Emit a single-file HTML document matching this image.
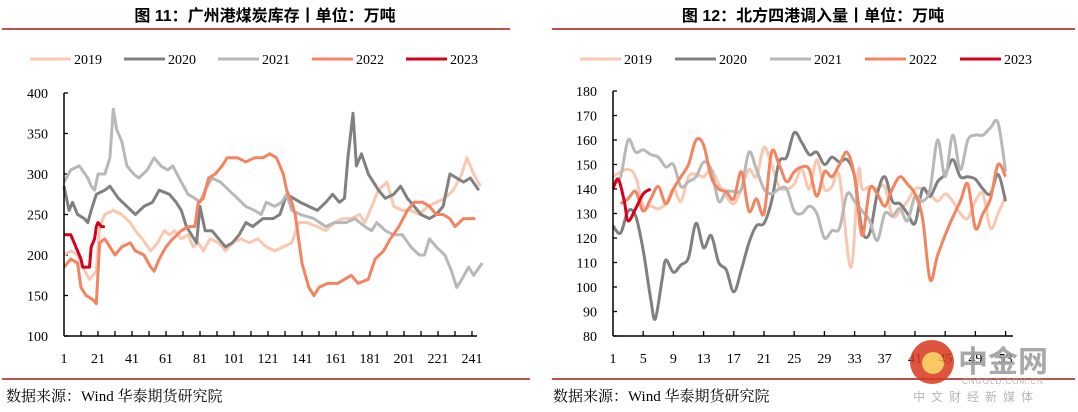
<!DOCTYPE html>
<html><head><meta charset="utf-8"><style>
body{margin:0;background:#fff;width:1078px;height:412px;overflow:hidden;font-family:"Liberation Serif","Noto Serif CJK SC",serif}
svg{position:absolute;left:0;top:0}
</style></head><body>
<svg width="1078" height="412" id="svg">
<text x="265" y="21" text-anchor="middle" font-family="'Liberation Sans','Noto Sans CJK SC',sans-serif" font-weight="bold" font-size="16">图 11：广州港煤炭库存丨单位：万吨</text>
<text x="813" y="21" text-anchor="middle" font-family="'Liberation Sans','Noto Sans CJK SC',sans-serif" font-weight="bold" font-size="16">图 12：北方四港调入量丨单位：万吨</text>
<line x1="2" y1="29" x2="510" y2="29" stroke="#c0504d" stroke-width="2"/>
<line x1="552" y1="29" x2="1075" y2="29" stroke="#c0504d" stroke-width="2"/>
<line x1="2" y1="379" x2="530" y2="379" stroke="#c0504d" stroke-width="2"/>
<line x1="552" y1="379" x2="1075" y2="379" stroke="#c0504d" stroke-width="2"/>
<text x="6" y="401" font-size="15">数据来源：Wind 华泰期货研究院</text>
<text x="553" y="401" font-size="15">数据来源：Wind 华泰期货研究院</text>
<g id="L"></g><g id="R"></g>
<g opacity="0.85">
<circle cx="932" cy="362" r="22" fill="#d9381e"/>
<circle cx="933" cy="363" r="11" fill="#f6c04a"/>
<text x="958" y="372" font-size="30" font-weight="bold" fill="#999" font-family="'Noto Sans CJK SC',sans-serif">中金网</text>
<text x="962" y="384" font-size="8" fill="#aaa" font-family="'Liberation Sans',sans-serif" letter-spacing="1">CNGOLD.COM.CN</text>
<text x="913" y="401" font-size="12" fill="#aaa" letter-spacing="6" font-family="'Noto Sans CJK SC',sans-serif">中文财经新媒体</text>
</g>
</svg>
<script>
const NS="http://www.w3.org/2000/svg";
const years=["2019","2020","2021","2022","2023"];
const colors=["#f8c8b0","#808080","#b8b8b8","#f4845f","#d7001b"];
// Left chart data (day index, value)
const L19x=[1,5,9,12,16,20,22,25,30,35,40,43,47,52,56,60,63,66,70,74,77,80,83,87,92,96,100,105,110,115,120,125,130,135,139,144,150,155,160,165,170,175,178,182,186,191,195,200,205,210,215,220,225,230,235,238,242,246];
const L19v=[200,205,200,185,170,180,235,250,255,250,240,230,220,205,215,230,225,230,220,225,210,215,205,220,215,205,215,220,215,220,210,205,210,215,240,240,235,230,240,245,245,250,240,260,280,290,260,255,255,250,260,265,270,280,300,320,300,285];
const L20x=[1,4,6,9,13,15,17,20,25,28,33,38,43,48,53,57,63,67,70,73,76,79,81,84,88,92,96,100,104,108,112,118,124,128,132,136,140,145,150,155,159,163,166,168,171,173,176,180,183,186,190,195,199,203,207,211,216,220,224,228,232,236,240,245];
const L20v=[285,255,265,250,245,240,255,275,280,285,270,260,250,260,265,280,275,265,255,235,225,215,260,230,230,220,210,215,225,240,235,245,245,250,275,270,265,260,255,265,275,265,270,320,375,310,325,300,290,280,270,275,285,270,260,250,245,250,260,300,295,290,295,280];
const L21x=[1,5,10,15,17,19,21,25,28,30,32,35,38,42,45,50,54,58,62,65,70,74,78,81,84,88,93,98,103,108,113,117,120,125,129,132,135,140,148,155,160,167,172,178,182,185,190,195,200,205,210,213,216,220,225,229,232,235,239,242,247];
const L21v=[290,305,310,295,285,280,300,300,320,380,355,340,310,300,295,305,320,310,305,310,290,275,270,265,280,295,290,280,270,260,255,250,265,260,265,275,255,250,245,235,240,240,245,235,230,240,230,225,225,210,200,200,220,210,200,180,160,170,185,175,190];
const L22x=[1,5,9,11,14,18,20,22,25,28,31,35,40,43,48,52,54,57,61,65,70,74,78,80,83,86,90,94,97,103,108,113,118,122,126,130,132,135,137,141,145,148,151,156,162,166,170,174,180,184,189,193,198,203,207,212,216,220,224,228,231,236,243];
const L22v=[185,195,190,160,150,145,140,215,220,210,200,210,215,205,200,185,180,195,210,220,230,235,235,265,270,295,300,310,320,320,315,320,320,325,320,300,280,265,250,190,160,150,160,165,165,170,175,165,170,195,205,220,235,255,265,265,260,250,250,245,235,245,245];
const L23x=[1,5,8,11,12,16,17,19,20,21,23,25];
const L23v=[225,225,210,195,185,185,210,220,235,240,235,235];
const Lx=[L19x,L20x,L21x,L22x,L23x], Lv=[L19v,L20v,L21v,L22v,L23v];
const Lticks=[1,21,41,61,81,101,121,141,161,181,201,221,241];
const LyTicks=[100,150,200,250,300,350,400];
// Right chart data (week, value)
const R19x=[1,2,3,4,5,6,7,8,9,10,11,12,13,14,15,16,17,18,19,20,21,22,23,24,25,26,27,28,29,30,31,32.5,33.5,34,35,36,37,38,39,40,41,42,43,44,45,46,47,48,49,50,51,52,53];
const R19v=[145,147,148,145,133,133,132,134,140,135,145,146,145,148,142,137,134,140,148,145,157,150,141,140,142,148,140,152,140,141,145,108,147,140,141,140,141,129,131,135,140,140,138,135,138,135,130,128,135,138,124,130,137];
const R20x=[1,2,3,4,5,6,6.6,7.5,8,9,10,11,12,13,14,15,16,17,18,19,20,21,22,23,24,25,26,27,28,29,30,31,32,33,34,35,36,37,38,39,40,41,42,43,44,45,46,47,48,49,50,51,52,53];
const R20v=[125,122,131,129,115,95,87,103,111,106,109,112,126,116,121,110,107,98,107,118,125,126,135,151,153,163,159,154,155,150,153,151,152,145,123,122,138,145,135,134,130,126,140,137,143,146,152,145,145,144,140,138,146,135];
const R21x=[1,2,3,4,5,6,7,8,9,10,11,12,13,14,15,16,17,18,19,20,21,22,23,24,25,26,27,28,29,30,31,32,33,34,35,36,37,38,39,40,41,42,43,44,45,46,47,48,49,50,51,52,53];
const R21v=[142,145,160,155,156,154,153,149,150,141,143,145,151,148,135,139,139,140,155,148,140,138,140,140,131,130,133,130,120,123,124,138,135,131,127,119,130,129,132,127,137,135,140,160,145,162,148,160,162,162,165,167,147];
const R22x=[2,3,4,5,6,7,8,9,10,11,12,13,14,15,16,17,18,19,20,21,22,23,24,25,26,27,28,29,30,31,32,33,34,35,36,37,38,39,40,41,42,43,44,45.5,47,48,49,50,51,52,53];
const R22v=[134,136,139,131,136,141,134,140,145,150,160,158,145,140,139,136,147,131,136,130,155,150,143,147,149,148,137,147,145,150,155,145,121,140,138,133,140,145,142,138,128,103,113,125,135,142,124,130,136,150,145];
const R23x=[1,1.7,2.5,3,4,5,6];
const R23v=[140,144,135,127,132,138,140];
const Rx=[R19x,R20x,R21x,R22x,R23x], Rv=[R19v,R20v,R21v,R22v,R23v];
const Rticks=[1,5,9,13,17,21,25,29,33,37,41,45,49,53];
const RyTicks=[80,90,100,110,120,130,140,150,160,170,180];

function el(tag,attrs,parent){const e=document.createElementNS(NS,tag);for(const k in attrs)e.setAttribute(k,attrs[k]);parent.appendChild(e);return e;}
function smooth(pts){let d="M"+pts[0][0]+","+pts[0][1];for(let i=0;i<pts.length-1;i++){const p0=pts[i-1]||pts[i],p1=pts[i],p2=pts[i+1],p3=pts[i+2]||p2;const c1x=p1[0]+(p2[0]-p0[0])/6,c1y=p1[1]+(p2[1]-p0[1])/6,c2x=p2[0]-(p3[0]-p1[0])/6,c2y=p2[1]-(p3[1]-p1[1])/6;d+=` C${c1x},${c1y} ${c2x},${c2y} ${p2[0]},${p2[1]}`;}return d;}

function panel(g,cfg){
  const xs=v=>cfg.x0+(v-cfg.xmin)*cfg.xs;
  const ys=v=>cfg.yb-(v-cfg.ymin)/(cfg.ymax-cfg.ymin)*(cfg.yb-cfg.yt);
  // legend
  years.forEach((y,i)=>{
    const lx=cfg.legX+i*cfg.legStep;
    const ln=el("line",{x1:lx,y1:59,x2:lx+41,y2:59,stroke:colors[i],"stroke-width":3},g);
    
    
    const t=el("text",{x:lx+44,y:64,"font-size":14},g);t.textContent=y;
    
    
  });
  // y ticks
  cfg.yTicks.forEach(v=>{
    const t=el("text",{x:cfg.x0-16,y:ys(v)+5,"text-anchor":"end","font-size":14},g);t.textContent=v;
    
    
    const tk=el("line",{x1:cfg.x0,y1:ys(v),x2:cfg.x0+4,y2:ys(v),stroke:"#000","stroke-width":1.3},g);
    
    
  });
  // x ticks
  cfg.xTicks.forEach((v,i)=>{
    const t=el("text",{x:xs(v),y:cfg.yb+27,"text-anchor":"middle","font-size":14},g);t.textContent=v;
    
    
  });
  cfg.minor.forEach(v=>{
    const tk=el("line",{x1:xs(v),y1:cfg.yb,x2:xs(v),y2:cfg.yb-5,stroke:"#000","stroke-width":1.3},g);
    
    
  });
  // series
  cfg.X.forEach((arr,si)=>{
    const pts=arr.map((v,j)=>[xs(v),ys(cfg.V[si][j])]);
    const d=cfg.smooth?smooth(pts):"M"+pts.map(p=>p[0].toFixed(1)+","+p[1].toFixed(1)).join(" L");
    const p=el("path",{d:d,fill:"none",stroke:colors[si],"stroke-width":3,"stroke-linejoin":"round"},g);
    
    
  });
  const ax=el("line",{x1:cfg.x0,y1:cfg.yt,x2:cfg.x0,y2:cfg.yb,stroke:"#000","stroke-width":1.5},g);
  
  
  const axx=el("line",{x1:cfg.x0,y1:cfg.yb,x2:cfg.xend,y2:cfg.yb,stroke:"#000","stroke-width":1.5},g);
  
  
}
const Lminor=[];for(let v=11;v<=241;v+=10)Lminor.push(v);
panel(document.getElementById("L"),{x0:64,xmin:1,xs:1.7,xend:477,yt:93,yb:336,ymin:100,ymax:400,yTicks:LyTicks,xTicks:Lticks,minor:Lminor,X:Lx,V:Lv,smooth:false,legX:30,legStep:94});
const Rminor=Rticks.slice(1);
panel(document.getElementById("R"),{x0:613,xmin:1,xs:7.55,xend:1013,yt:91,yb:336,ymin:80,ymax:180,yTicks:RyTicks,xTicks:Rticks,minor:Rminor,X:Rx,V:Rv,smooth:true,legX:580,legStep:95});
document.getElementById("L");
document.getElementById("L");
document.getElementById("R");
document.getElementById("R");
</script>
</body></html>
